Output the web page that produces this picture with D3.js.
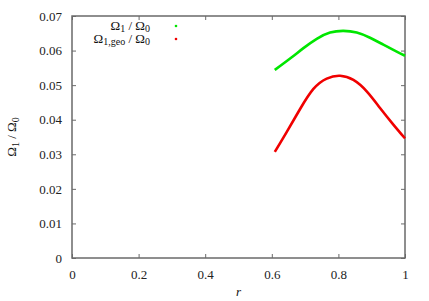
<!DOCTYPE html>
<html>
<head>
<meta charset="utf-8">
<script src="https://cdn.jsdelivr.net/npm/d3@7"></script>
<style>
body { margin: 0; background: #fff; }
</style>
</head>
<body>
<svg width="429" height="301"></svg>
<script>
// values
var rOmega = [0.609, 0.655, 0.695, 0.735, 0.775, 0.815, 0.855, 0.895, 0.935, 0.975, 1.0]
var omega = [0.0544, 0.0577, 0.0607, 0.0634, 0.0652, 0.0657, 0.0652, 0.0637, 0.0617, 0.0597, 0.0585]
var rGeo = [0.609, 0.645, 0.685, 0.725, 0.765, 0.805, 0.845, 0.885, 0.925, 0.965, 1.0]
var omegaGeo = [0.0307, 0.0365, 0.0431, 0.0489, 0.0519, 0.0527, 0.0515, 0.0482, 0.0434, 0.0386, 0.0346]
var xTicks = [0, 0.2, 0.4, 0.6, 0.8, 1]
var yTicks = [0, 0.01, 0.02, 0.03, 0.04, 0.05, 0.06, 0.07]

var FONT = "'Liberation Serif'";

var svg = d3.select("svg"),
    margin = {top: 16, right: 24, bottom: 43, left: 72},
    width = +svg.attr("width") - margin.left - margin.right,
    height = +svg.attr("height") - margin.top - margin.bottom,
    g = svg.append("g").attr("transform", "translate(" + margin.left + "," + margin.top + ")");

var x = d3.scaleLinear().domain([0, 1]).range([0, width]);
var y = d3.scaleLinear().domain([0, 0.07]).range([height, 0]);

var fmtX = function(d) { return d == 0 ? "0" : d == 1 ? "1" : d3.format(".1f")(d); };
var fmtY = function(d) { return d == 0 ? "0" : d3.format(".2f")(d); };

var axisColor = "#6a6a6a";

function styleAxis(sel) {
  sel.attr("font-family", null);
  sel.select(".domain").remove();
  sel.selectAll(".tick line").attr("stroke", axisColor).attr("stroke-width", 1);
  sel.selectAll(".tick text").attr("fill", "#222").style("font-family", FONT).style("font-size", "13px");
}

g.append("g")
    .attr("transform", "translate(0," + height + ")")
    .call(d3.axisBottom(x).tickValues(xTicks).tickFormat(fmtX).tickSize(-4).tickPadding(12))
    .call(styleAxis);
g.append("g")
    .call(d3.axisTop(x).tickValues(xTicks).tickFormat("").tickSize(-4))
    .call(styleAxis);
g.append("g")
    .call(d3.axisLeft(y).tickValues(yTicks).tickFormat(fmtY).tickSize(-4).tickPadding(10))
    .call(styleAxis);
g.append("g")
    .attr("transform", "translate(" + width + ",0)")
    .call(d3.axisRight(y).tickValues(yTicks).tickFormat("").tickSize(-4))
    .call(styleAxis);

g.append("rect")
    .attr("width", width).attr("height", height)
    .attr("fill", "none").attr("stroke", axisColor).attr("stroke-width", 1.5);

var line = d3.line()
    .x(function(d) { return x(d[0]); })
    .y(function(d) { return y(d[1]); })
    .curve(d3.curveNatural);

g.append("path")
    .datum(d3.zip(rOmega, omega))
    .attr("d", line).attr("fill", "none")
    .attr("stroke", "#00e600").attr("stroke-width", 2.6);
g.append("path")
    .datum(d3.zip(rGeo, omegaGeo))
    .attr("d", line).attr("fill", "none")
    .attr("stroke", "#f00000").attr("stroke-width", 2.6);

// legend
var leg = [
  {sub: "1", color: "#00e600", yy: 30},
  {sub: "1,geo", color: "#f00000", yy: 43}
];
leg.forEach(function(l) {
  var t = svg.append("text")
      .attr("x", 150).attr("y", l.yy)
      .attr("text-anchor", "end")
      .style("font-family", FONT)
      .style("font-size", "13px").attr("fill", "#111");
  t.append("tspan").text("Ω");
  t.append("tspan").attr("dy", 2).style("font-size", "10px").text(l.sub);
  t.append("tspan").attr("dy", -2).text(" / Ω");
  t.append("tspan").attr("dy", 2).style("font-size", "10px").text("0");
  svg.append("circle").attr("cx", 176).attr("cy", l.yy - 4).attr("r", 1.3).attr("fill", l.color);
});

// axis titles
var yl = svg.append("text")
    .attr("transform", "translate(16," + 137 + ") rotate(-90)")
    .attr("text-anchor", "middle")
    .style("font-family", FONT)
    .style("font-size", "13px").attr("fill", "#111");
yl.append("tspan").text("Ω");
yl.append("tspan").attr("dy", 2.5).style("font-size", "10px").text("1");
yl.append("tspan").attr("dy", -2.5).text(" / Ω");
yl.append("tspan").attr("dy", 2.5).style("font-size", "10px").text("0");

svg.append("text")
    .attr("x", margin.left + x(0.5)).attr("y", 296)
    .attr("text-anchor", "middle")
    .style("font-family", FONT)
    .style("font-size", "13px").style("font-style", "italic").attr("fill", "#111")
    .text("r");
</script>
</body>
</html>
